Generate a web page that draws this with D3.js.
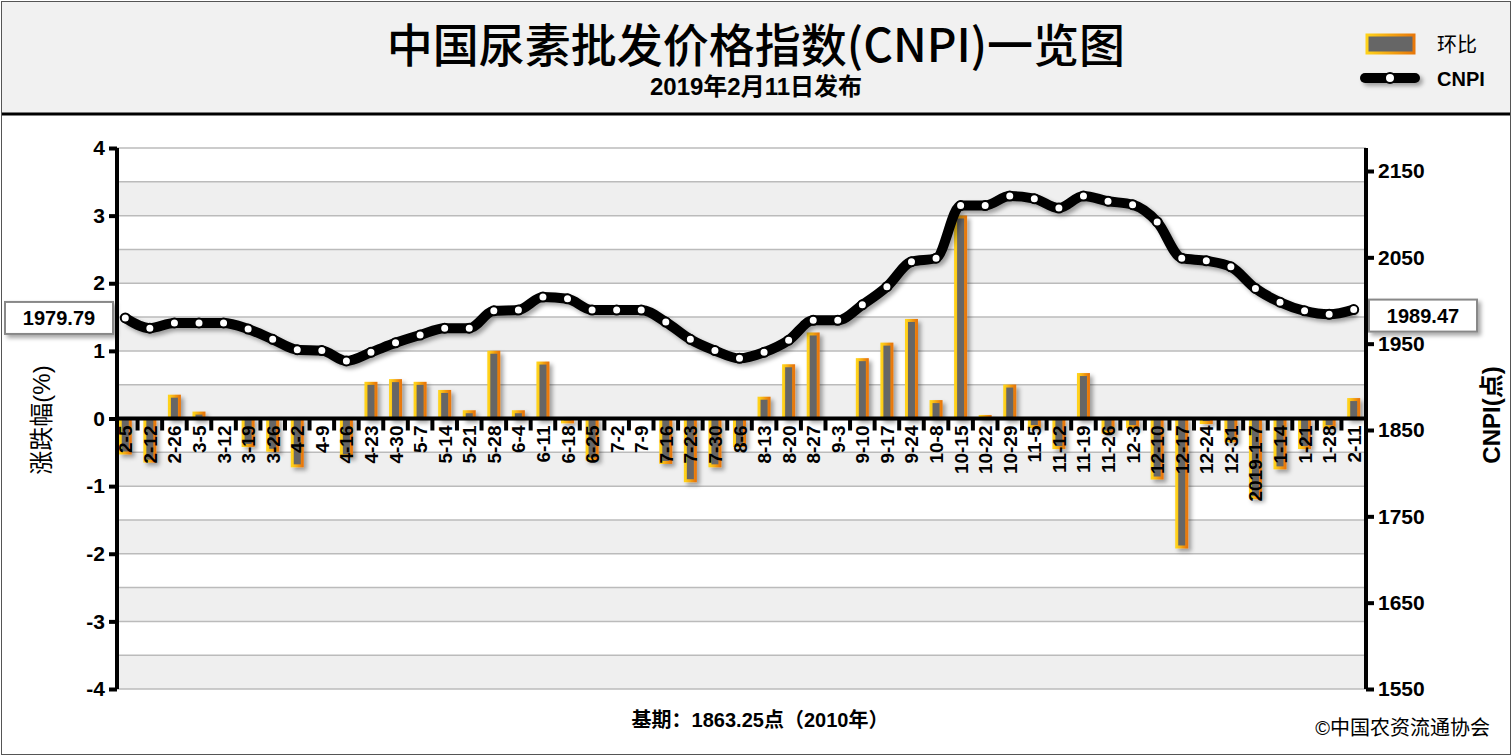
<!DOCTYPE html>
<html><head><meta charset="utf-8">
<script src="https://cdn.jsdelivr.net/npm/d3@7"></script>
<style>
body{margin:0;background:#fff;font-family:"Liberation Sans",Arial,"Noto Sans CJK SC",sans-serif}
</style></head>
<body><svg id="c" width="1512" height="756"></svg>
<script>
var dates = ["2-5","2-12","2-26","3-5","3-12","3-19","3-26","4-2","4-9","4-16","4-23","4-30","5-7","5-14","5-21","5-28","6-4","6-11","6-18","6-25","7-2","7-9","7-16","7-23","7-30","8-6","8-13","8-20","8-27","9-3","9-10","9-17","9-24","10-8","10-15","10-22","10-29","11-5","11-12","11-19","11-26","12-3","12-10","12-17","12-24","12-31","2019-1-7","1-14","1-21","1-28","2-11"]
var change = [-0.51,-0.63,0.33,0.08,0,-0.4,-0.47,-0.7,0,-0.55,0.52,0.56,0.52,0.4,0.1,0.98,0.1,0.82,-0.05,-0.6,0,0,-0.65,-0.92,-0.7,-0.4,0.3,0.78,1.25,0,0.87,1.1,1.45,0.25,2.98,0.03,0.48,-0.12,-0.43,0.65,-0.2,-0.12,-0.88,-1.9,-0.06,-0.33,-1.17,-0.73,-0.43,-0.12,0.28]
var cnpi = [1979.79,1968,1974,1974,1974,1967,1955,1943,1942,1930,1940,1951,1960,1968,1968,1988,1989,2004,2002,1989,1989,1989,1975,1955,1942,1933,1940,1954,1977,1977,1995,2016,2045,2049,2110,2110,2121,2118,2107,2121,2115,2111,2091,2049,2046,2039,2014,1998,1988,1984,1989.47]
var leftTicks = [-4,-3,-2,-1,0,1,2,3,4]
var rightTicks = [1550,1650,1750,1850,1950,2050,2150]

var svg = d3.select("#c")
var defs = svg.append("defs")
var g1 = defs.append("linearGradient").attr("id","og").attr("x1",0).attr("x2",1)
g1.append("stop").attr("offset","0%").attr("stop-color","#ffd21a")
g1.append("stop").attr("offset","100%").attr("stop-color","#e8780a")
var sh = defs.append("filter").attr("id","sh").attr("filterUnits","userSpaceOnUse")
  .attr("x",0).attr("y",0).attr("width",1512).attr("height",756)
sh.append("feDropShadow").attr("dx",3).attr("dy",3).attr("stdDeviation",2).attr("flood-opacity",0.35)

// frame
svg.append("rect").attr("x",1.5).attr("y",1.5).attr("width",1509).attr("height",753).attr("fill","#fff").attr("stroke","#555")
svg.append("rect").attr("x",2).attr("y",2).attr("width",1508).attr("height",111).attr("fill","#f1f1f1")
svg.append("line").attr("x1",2).attr("x2",1510).attr("y1",114).attr("y2",114).attr("stroke","#000").attr("stroke-width",3)

var y = d3.scaleLinear().domain([-4,4]).range([689,148])
var y2 = d3.scaleLinear().domain([1550,2150]).range([689,171])
var x = d3.scaleBand().domain(dates).range([113,1366]).padding(0)
var cx = d => x(d) + x.bandwidth()/2

// bands + grid
var bands = d3.range(-4,4,0.5)
svg.selectAll(".band").data(bands).join("rect")
  .attr("x",117).attr("width",1249).attr("y",d=>y(d+0.5)).attr("height",d=>y(d)-y(d+0.5))
  .attr("fill",(d,i)=> i%2==0 ? "#efefef" : "#fff")
svg.selectAll(".grid").data(d3.range(-4,4.01,0.5)).join("line")
  .attr("x1",117).attr("x2",1366).attr("y1",d=>y(d)).attr("y2",d=>y(d)).attr("stroke","#bbb").attr("stroke-width",1.5)

// bars
svg.append("g").selectAll("rect").data(dates).join("rect")
  .attr("x",d=>cx(d)-5).attr("width",10)
  .attr("y",(d,i)=>y(Math.max(0,change[i]))).attr("height",(d,i)=>Math.abs(y(change[i])-y(0)))
  .attr("fill","#666").attr("stroke","url(#og)").attr("stroke-width",3).attr("filter","url(#sh)")

// zero axis + ticks
svg.append("line").attr("x1",117).attr("x2",1366).attr("y1",y(0)).attr("y2",y(0)).attr("stroke","#000").attr("stroke-width",4)
svg.append("g").selectAll("line").data(dates.slice(1)).join("line")
  .attr("x1",d=>x(d)).attr("x2",d=>x(d)).attr("y1",y(0)).attr("y2",y(0)+12).attr("stroke","#000").attr("stroke-width",4)
svg.append("g").selectAll("text").data(dates).join("text")
  .attr("transform",d=>`translate(${cx(d)+7},${y(0)+7}) rotate(-90)`)
  .attr("text-anchor","end").attr("font-size",19).attr("font-weight","bold").text(d=>d)

// axes
var la = svg.append("g").attr("transform","translate(117,0)")
  .call(d3.axisLeft(y).tickValues(leftTicks).tickSize(8).tickFormat(d => String(d)))
la.select(".domain").attr("stroke-width",4).attr("d","M0,148V689")
la.selectAll(".tick line").attr("stroke-width",4)
la.selectAll("text").attr("font-size",21).attr("font-weight","bold").attr("x",-12).attr("font-family","Liberation Sans")
var ra = svg.append("g").attr("transform","translate(1366,0)")
  .call(d3.axisRight(y2).tickValues(rightTicks).tickSize(8).tickFormat(d => String(d)))
ra.select(".domain").attr("stroke-width",4).attr("d","M0,148V689")
ra.selectAll(".tick line").attr("stroke-width",4)
ra.selectAll("text").attr("font-size",21).attr("font-weight","bold").attr("x",12).attr("font-family","Liberation Sans")

// line
var line = d3.line().x(d=>cx(d)).y((d,i)=>y2(cnpi[i])).curve(d3.curveMonotoneX)
svg.append("path").datum(dates).attr("d",line).attr("fill","none").attr("stroke","#000").attr("stroke-width",10).attr("filter","url(#sh)")
svg.append("g").selectAll("circle").data(dates).join("circle")
  .attr("cx",d=>cx(d)).attr("cy",(d,i)=>y2(cnpi[i])).attr("r",4.5).attr("fill","#fff").attr("stroke","#000").attr("stroke-width",2)

// value boxes
function box(xp,yp,t){
  var gg = svg.append("g")
  gg.append("rect").attr("x",xp).attr("y",yp-16).attr("width",108).attr("height",32).attr("fill","#fff").attr("stroke","#888").attr("stroke-width",2).attr("filter","url(#sh)")
  gg.append("text").attr("x",xp+54).attr("y",yp+7).attr("text-anchor","middle").attr("font-size",20).attr("font-weight","bold").text(t)
}
box(5,y2(cnpi[0]),d3.format(".2f")(cnpi[0]))
box(1369,y2(cnpi[cnpi.length-1])+6,d3.format(".2f")(cnpi[cnpi.length-1]))

// titles
svg.append("text").attr("x",756).attr("y",62).attr("text-anchor","middle").attr("font-size",46).attr("font-family","Noto Sans CJK SC").attr("font-weight",500).text("中国尿素批发价格指数(CNPI)一览图")
svg.append("text").attr("x",756).attr("y",95).attr("text-anchor","middle").attr("font-size",24).attr("font-weight","bold").text("2019年2月11日发布")
svg.append("text").attr("transform","translate(50,420) rotate(-90)").attr("text-anchor","middle").attr("font-size",24).text("涨跌幅(%)")
svg.append("text").attr("transform","translate(1500,415) rotate(-90)").attr("text-anchor","middle").attr("font-size",24).attr("font-weight","bold").text("CNPI(点)")
svg.append("text").attr("x",760).attr("y",727).attr("text-anchor","middle").attr("font-size",20).attr("font-weight","bold").text("基期：1863.25点（2010年）")
svg.append("text").attr("x",1490).attr("y",735).attr("text-anchor","end").attr("font-size",20).text("©中国农资流通协会")

// legend
svg.append("rect").attr("x",1367).attr("y",35).attr("width",47).attr("height",18).attr("fill","#666").attr("stroke","url(#og)").attr("stroke-width",3)
svg.append("text").attr("x",1437).attr("y",52).attr("font-size",20).text("环比")
svg.append("line").attr("x1",1365).attr("x2",1415).attr("y1",78).attr("y2",78).attr("stroke","#000").attr("stroke-width",10).attr("stroke-linecap","round").attr("filter","url(#sh)")
svg.append("circle").attr("cx",1390).attr("cy",78).attr("r",5).attr("fill","#fff").attr("stroke","#000").attr("stroke-width",2)
svg.append("text").attr("x",1437).attr("y",86).attr("font-size",20).attr("font-weight","bold").text("CNPI")
</script></body></html>
